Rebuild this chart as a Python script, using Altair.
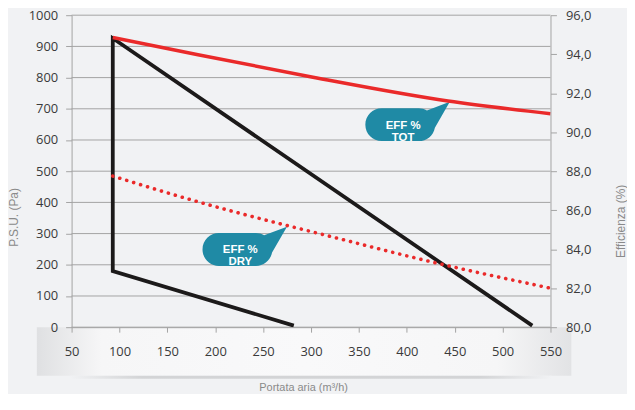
import altair as alt
import pandas as pd

# ---- data ----
# P.S.U. (Pa) operating envelope (black), drawn in this order
psu_flow = [282, 93, 93, 531]
psu_pa = [5, 180, 926, 5]

# Efficiency TOT (solid red), %
tot_flow = [93, 182, 302, 443, 550]
tot_eff = [94.86, 93.97, 92.82, 91.6, 90.95]

# Efficiency DRY (dotted red), %
dry_flow = [93, 182, 276, 302, 430, 550]
dry_eff = [87.75, 86.43, 85.2, 84.88, 83.3, 82.0]

# callouts (placed in flow / Pa coordinates)
call_text = ["EFF %\nTOT", "EFF %\nDRY"]
call_flow = [393, 223]
call_pa = [649, 249]

x_ticks = list(range(50, 551, 25))
pa_ticks = list(range(0, 1001, 100))
eff_ticks = list(range(80, 97, 2))

LABEL_FONT = "Open Sans"
TITLE_FONT = "Liberation Sans Narrow, Arial Narrow, Liberation Sans"
GRAY = "#a3a3a3"
RED = "#ea2a2a"
TEAL = "#1f8aa5"
BG = "#f1f2f4"

psu_df = pd.DataFrame({"x": psu_flow, "pa": psu_pa, "o": list(range(len(psu_flow)))})
tot_df = pd.DataFrame({"x": tot_flow, "eff": tot_eff})
dry_df = pd.DataFrame({"x": dry_flow, "eff": dry_eff})
call_df = pd.DataFrame({"x": call_flow, "pa": call_pa, "t": call_text})
grid_df = pd.DataFrame({"pa": pa_ticks})
one = pd.DataFrame({"a": [0]})

x_axis = alt.Axis(
    values=x_ticks,
    labelExpr="datum.value % 50 == 0 ? datum.label : ''",
    labelFlush=False,
    grid=False,
    domainColor=GRAY,
    tickColor=GRAY,
    tickSize=5,
    labelPadding=13,
    labelFont=LABEL_FONT,
    labelFontSize=13,
    labelColor="#3a3a3a",
    title="Portata aria (m³/h)",
    titleFont=TITLE_FONT,
    titleFontSize=11,
    titleFontWeight="normal",
    titleColor="#8a8a8a",
    titleX=233,
    titleY=61,
    titleAlign="center",
    titleBaseline="middle",
    zindex=1,
)


def xenc():
    return alt.X("x:Q", scale=alt.Scale(domain=[50, 550], nice=False, zero=False), axis=x_axis)


pa_axis = alt.Axis(
    orient="left",
    values=pa_ticks,
    format="d",
    grid=False,
    domainColor=GRAY,
    tickColor=GRAY,
    tickSize=6,
    labelPadding=8,
    labelFont=LABEL_FONT,
    labelFontSize=13,
    labelColor="#3a3a3a",
    title="P.S.U. (Pa)",
    titleFont=TITLE_FONT,
    titleFontSize=12,
    titleFontWeight="normal",
    titleColor="#8a8a8a",
    titleAngle=270,
    titleX=-58,
    titleY=203,
    titleAlign="center",
    titleBaseline="middle",
    zindex=1,
)


def yleft():
    return alt.Y("pa:Q", scale=alt.Scale(domain=[0, 1000], nice=False), axis=pa_axis)


eff_axis = alt.Axis(
    orient="right",
    values=eff_ticks,
    grid=False,
    domainColor=GRAY,
    tickColor=GRAY,
    tickSize=6,
    labelPadding=9,
    labelExpr="replace(format(datum.value, '.1f'), '.', ',')",
    labelFont=LABEL_FONT,
    labelFontSize=13,
    labelColor="#3a3a3a",
    title="Efficienza (%)",
    titleFont=TITLE_FONT,
    titleFontSize=12,
    titleFontWeight="normal",
    titleColor="#8a8a8a",
    titleAngle=270,
    titleX=70,
    titleY=207,
    titleAlign="center",
    titleBaseline="middle",
    zindex=1,
)


def yright():
    return alt.Y("eff:Q", scale=alt.Scale(domain=[80, 96], nice=False, zero=False), axis=eff_axis)


# decorative label strip under the x axis
band = alt.Chart(one).mark_rect(
    fill={
        "gradient": "linear", "x1": 0, "x2": 1, "y1": 0, "y2": 0,
        "stops": [
            {"offset": 0, "color": "#dfe0e2"},
            {"offset": 0.12, "color": "#f6f6f7"},
            {"offset": 0.5, "color": "#f9f9fa"},
            {"offset": 0.86, "color": "#f6f6f7"},
            {"offset": 1, "color": "#e2e3e5"},
        ],
    }
).encode(x=alt.value(-35), x2=alt.value(503), y=alt.value(314), y2=alt.value(363))

shadow = alt.Chart(one).mark_rect(
    fill={
        "gradient": "linear", "x1": 0, "x2": 1, "y1": 0, "y2": 0,
        "stops": [
            {"offset": 0, "color": BG},
            {"offset": 0.15, "color": "#d3d4d6"},
            {"offset": 0.85, "color": "#d3d4d6"},
            {"offset": 1, "color": BG},
        ],
    }
).encode(x=alt.value(-2), x2=alt.value(483), y=alt.value(363), y2=alt.value(366))

grid = alt.Chart(grid_df).mark_rule(color=GRAY, strokeWidth=1).encode(
    y=yleft(), x=alt.datum(50), x2=alt.datum(550)
)

psu = alt.Chart(psu_df).mark_line(color="#1c1a1a", strokeWidth=3.8, strokeJoin="miter").encode(
    x=xenc(), y=yleft(), order="o:Q"
)

bubble_path = (
    "M -0.37,-0.33 L 0.37,-0.33 A 0.33,0.33 0 0 1 0.54,-0.285 L 1.0,-0.46 "
    "L 0.70,0.06 A 0.33,0.33 0 0 1 0.37,0.33 L -0.37,0.33 "
    "A 0.33,0.33 0 0 1 -0.37,-0.33 Z"
)
bubbles = alt.Chart(call_df).mark_point(
    shape=bubble_path, filled=True, color=TEAL, size=10000, opacity=1, strokeWidth=0
).encode(x=xenc(), y=yleft())

bubble_text = alt.Chart(call_df).mark_text(
    lineBreak="\n", font=TITLE_FONT, fontWeight="bold", fontSize=11.5, color="white",
    align="center", baseline="middle", lineHeight=12, dx=3, dy=1,
).encode(x=xenc(), y=yleft(), text="t:N")

left = alt.layer(band, shadow, grid, psu, bubbles, bubble_text)

tot = alt.Chart(tot_df).mark_line(color=RED, strokeWidth=3.5, interpolate="monotone").encode(
    x=xenc(), y=yright()
)
dry = alt.Chart(dry_df).mark_line(
    color=RED, strokeWidth=3.6, strokeDash=[0.1, 7.2], strokeCap="round", interpolate="monotone"
).encode(x=xenc(), y=yright())

right = alt.layer(tot, dry)

chart = (
    alt.layer(left, right)
    .resolve_scale(y="independent")
    .properties(
        width=482,
        height=314,
        autosize=alt.AutoSizeParams(type="none"),
        padding={"left": 64, "top": 6, "right": 77, "bottom": 66},
        background=BG,
    )
    .configure_view(stroke=None)
)

chart.save("out.html", embed_options={"renderer": "svg", "actions": False})
